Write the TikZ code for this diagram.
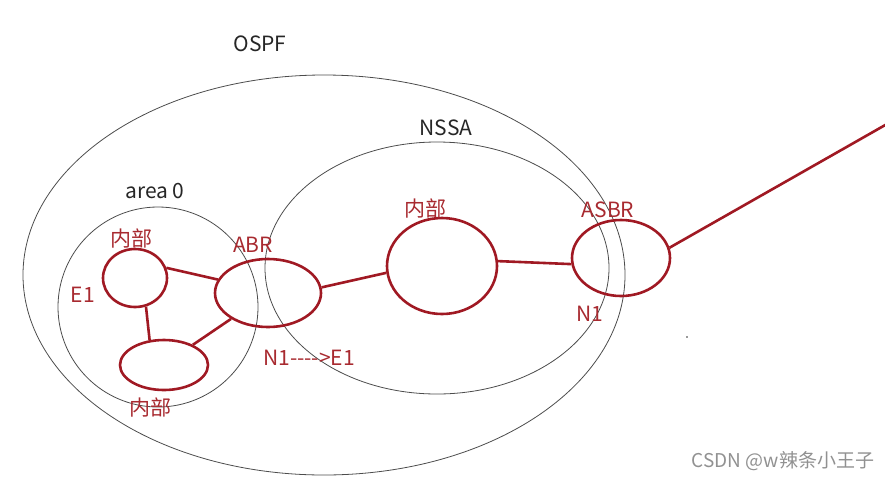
\documentclass[tikz,border=0pt]{standalone}
\usepackage{fontspec}
\setmainfont{Noto Sans CJK SC}
\usepackage{xcolor}
\usetikzlibrary{shapes, positioning}
\definecolor{routerred}{RGB}{160,25,35}
\definecolor{labelred}{RGB}{168,42,48}
\definecolor{markgray}{RGB}{145,145,145}

\begin{document}
\begin{tikzpicture}[x=1pt, y=-1pt, font=\fontsize{21}{25}\selectfont]

    % Define styles for the areas, routers and labels
    \tikzstyle{area} = [draw=black!70, ellipse, line width=0.8pt, inner sep=0pt]
    \tikzstyle{router} = [draw=routerred, ellipse, line width=2.6pt, inner sep=0pt]
    \tikzstyle{link} = [routerred, line width=2.6pt]
    \tikzstyle{tag} = [text=labelred, inner sep=0pt]
    \tikzstyle{title} = [text=black!85, inner sep=0pt]

    \useasboundingbox (0,0) rectangle (885,480);

    % areas
    \node (ospf) [area, minimum width=602pt, minimum height=400pt] at (324,275) {};
    \node (nssa) [area, minimum width=344pt, minimum height=252pt] at (437,268) {};
    \node (area0) [area, minimum width=200pt, minimum height=200pt] at (158,307) {};

    % routers
    \node (in1) [router, minimum width=64pt, minimum height=58pt] at (135,278) {};
    \node (in2) [router, minimum width=88pt, minimum height=50pt] at (164,365) {};
    \node (abr) [router, minimum width=106pt, minimum height=68pt] at (268,293) {};
    \node (in3) [router, minimum width=110pt, minimum height=96pt] at (442,266) {};
    \node (asbr) [router, minimum width=98pt, minimum height=76pt] at (621,258) {};
    \coordinate (ext) at (887,124);

    % labels
    \node (ospf_lbl) [title] at (260,44) {OSPF};
    \node (nssa_lbl) [title] at (446,128) {NSSA};
    \node (area0_lbl) [title] at (155,191) {area 0};
    \node (in1_lbl) [tag] at (131,238) {内部};
    \node (e1_lbl) [tag] at (83,295) {E1};
    \node (in2_lbl) [tag] at (150,407) {内部};
    \node (abr_lbl) [tag] at (253,245) {ABR};
    \node (conv_lbl) [tag] at (309,358) {N1-{}-{}-{}->E1};
    \node (in3_lbl) [tag] at (425,208) {内部};
    \node (asbr_lbl) [tag] at (608,210) {ASBR};
    \node (n1_lbl) [tag] at (590,314) {N1};
    \node (mark) [text=markgray, inner sep=0pt, font=\fontsize{19}{23}\selectfont] at (783,461) {CSDN @w辣条小王子};

    % links
    \draw[link] (in1.18) -- (abr.165);
    \draw[link] (in1.-69) -- (in2.120);
    \draw[link] (in2.35) -- (abr.215);
    \draw[link] (abr.6) -- (in3.187);
    \draw[link] (in3.5) -- (asbr.187);
    \draw[link] (asbr.12) -- (ext);

    \fill[black!80] (687,337) circle (0.9pt);

\end{tikzpicture}
\end{document}
